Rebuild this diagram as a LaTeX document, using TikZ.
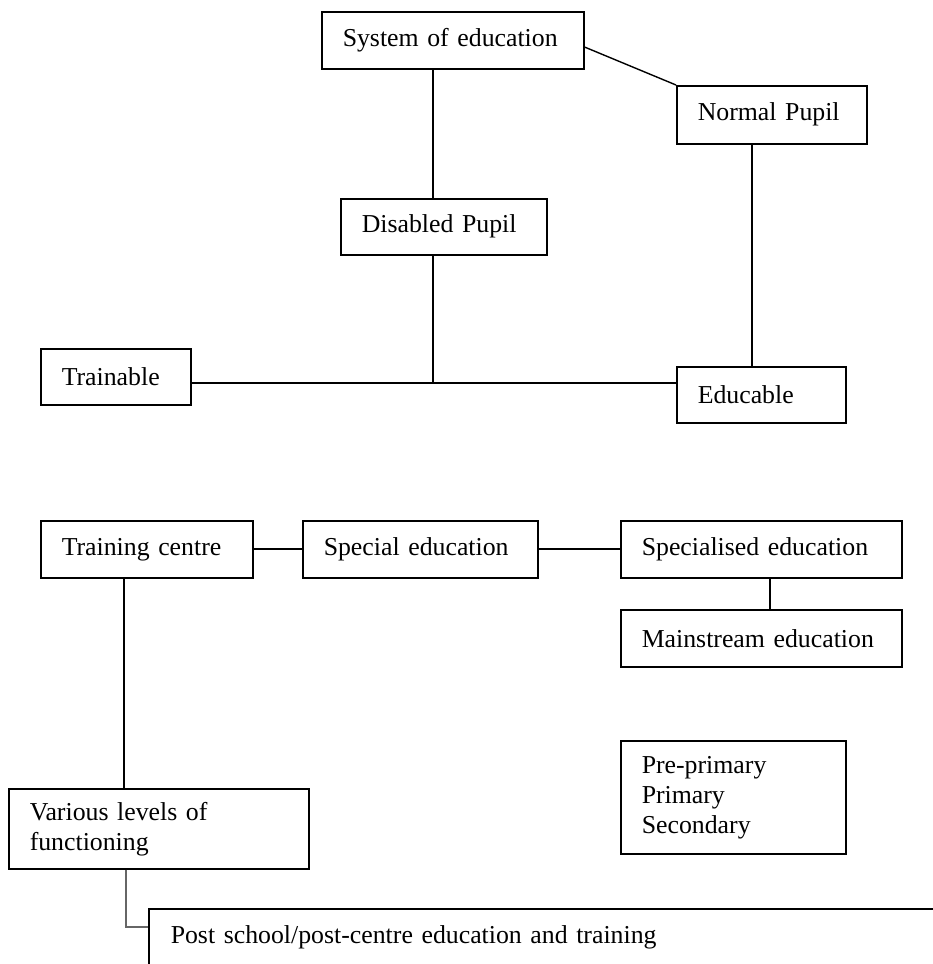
\documentclass[tikz,border=0pt]{standalone}
\usepackage{fontspec}
\setmainfont{Liberation Serif}
\usetikzlibrary{calc}
\tikzset{
  bx/.style={draw, line width=1.5pt, inner xsep=21pt, inner ysep=0pt, align=left,
    anchor=north west, text width=#1-42pt, minimum height=57pt,
    font=\fontsize{25.8}{30}\selectfont},
  conn/.style={draw, line width=1.4pt},
  thinconn/.style={draw, line width=1.2pt, black!60}
}
\begin{document}
\begin{tikzpicture}[x=1pt,y=-1pt]
\useasboundingbox (0,0) rectangle (933,964);
% upper part
\node[bx=262pt] (sys) at (321,11) {System of education};
\node[bx=190pt, minimum height=58pt] (norm) at (676,85) {Normal Pupil};
\node[bx=206pt, minimum height=56pt] (dis) at (340,198) {Disabled Pupil};
\node[bx=150pt, minimum height=56pt] (trn) at (40,348) {Trainable};
\node[bx=169pt, minimum height=56pt] (edu) at (676,366) {Educable};
\coordinate (j) at (433,383);
\coordinate (nx) at (752,0);
\draw[conn] ($(sys.north east)+(0,36)$) -- (norm.north west);
\draw[conn] (j |- sys.south) -- (j |- dis.north);
\draw[conn] (j |- dis.south) -- (j);
\draw[conn, line width=1.8pt] (trn.east |- j) -- (edu.west |- j);
\draw[conn] (nx |- norm.south) -- (nx |- edu.north);
% lower part
\node[bx=212pt] (tc) at (40,520) {Training centre};
\node[bx=235pt] (se) at (302,520) {Special education};
\node[bx=281pt] (sp) at (620,520) {Specialised education};
\node[bx=281pt] (ms) at (620,609) {Mainstream education};
\node[bx=225pt, minimum height=113pt] (pp) at (620,740) {Pre-primary\\Primary\\Secondary};
\node[bx=300pt, minimum height=80pt] (var) at (8,788) {Various levels of\\functioning};
\node[bx=820pt, minimum height=58pt, inner xsep=22pt] (post) at (148,908) {Post school/post-centre education and training};
\coordinate (tx) at (124,0);
\coordinate (mx) at (770,0);
\coordinate (vx) at (126,927);
\draw[conn, line width=1.6pt] (tc.east) -- (se.west);
\draw[conn, line width=1.6pt] (se.east) -- (sp.west);
\draw[conn] (mx |- sp.south) -- (mx |- ms.north);
\draw[conn] (tx |- tc.south) -- (tx |- var.north);
\draw[thinconn] (vx |- var.south) -- (vx) -- (post.west |- vx);
\end{tikzpicture}
\end{document}
